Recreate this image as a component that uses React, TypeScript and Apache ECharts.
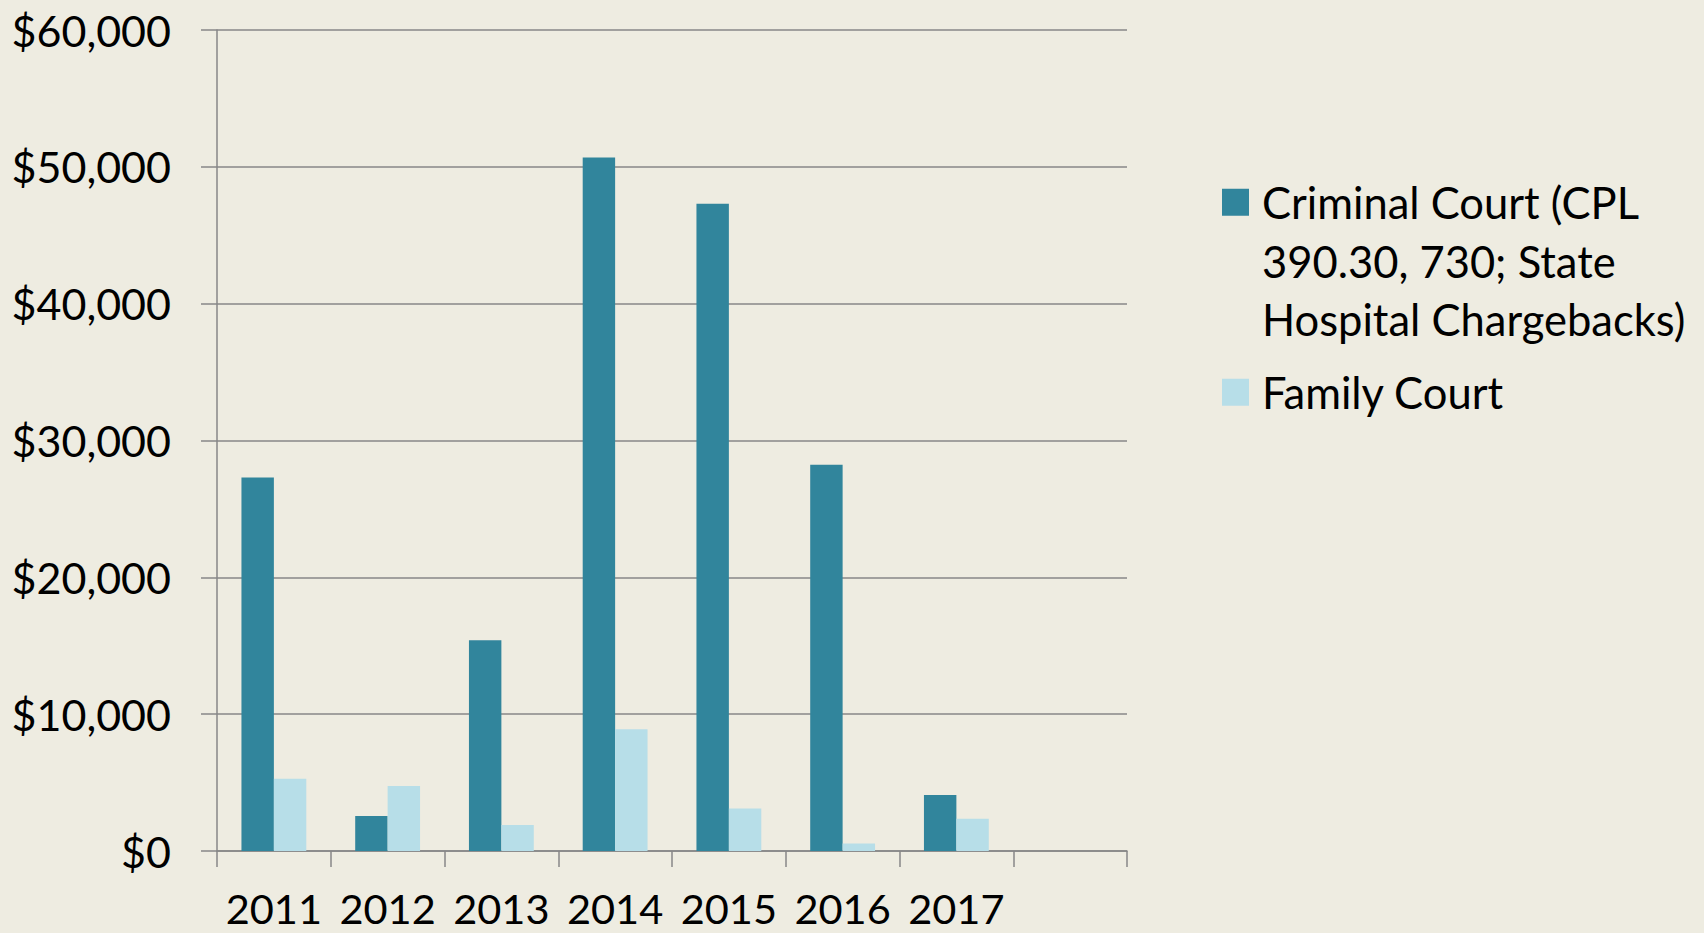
import React, { useEffect, useRef } from "react";
import * as echarts from "echarts";

const categories = ["2011", "2012", "2013", "2014", "2015", "2016", "2017", ""];
const criminalCourt = [27300, 2550, 15400, 50680, 47300, 28230, 4100, null];
const familyCourt = [5280, 4750, 1900, 8900, 3100, 550, 2350, null];
const seriesNames = [
  "Criminal Court (CPL\n390.30, 730; State\nHospital Chargebacks)",
  "Family Court",
];
const yTicks = { min: 0, max: 60000, interval: 10000 };

const FONT = "Lato";

export default function App() {
  const ref = useRef<HTMLDivElement>(null);
  useEffect(() => {
    if (!ref.current) return;
    const chart = echarts.init(ref.current, undefined, { renderer: "svg" });
    const axisGrey = "#878787";
    chart.setOption({
      animation: false,
      backgroundColor: "#EEECE1",
      textStyle: { fontFamily: FONT },
      grid: { left: 217, right: 577, top: 30, bottom: 82 },
      legend: [
        {
          data: [seriesNames[0]],
          left: 1222,
          top: 56,
          padding: 0,
          itemWidth: 27,
          itemHeight: 27,
          icon: "rect",
          formatter: (name: string) => "\n\n" + name,
          textStyle: {
            fontFamily: FONT,
            fontSize: 43.5,
            color: "#000",
            lineHeight: 58.5,
            padding: [0, 0, 0, 8],
          },
        },
        {
          data: [seriesNames[1]],
          left: 1222,
          top: 363,
          padding: 0,
          itemWidth: 27,
          itemHeight: 27,
          icon: "rect",
          textStyle: {
            fontFamily: FONT,
            fontSize: 43.5,
            color: "#000",
            lineHeight: 58.5,
            padding: [0, 0, 0, 8],
          },
        },
      ],
      xAxis: {
        type: "category",
        data: categories,
        axisLine: { show: true, lineStyle: { color: axisGrey, width: 1.5 } },
        axisTick: { show: true, length: 16, alignWithLabel: false, lineStyle: { color: axisGrey, width: 1.5 } },
        axisLabel: { fontFamily: FONT, fontSize: 41.5, lineHeight: 30, color: "#000", margin: 42, interval: 0 },
        splitLine: { show: false },
      },
      yAxis: {
        type: "value",
        min: yTicks.min,
        max: yTicks.max,
        interval: yTicks.interval,
        axisLine: { show: true, lineStyle: { color: axisGrey, width: 1.5 } },
        axisTick: { show: true, length: 16, lineStyle: { color: axisGrey, width: 1.5 } },
        axisLabel: {
          fontFamily: FONT,
          fontSize: 43,
          color: "#000",
          margin: 46,
          formatter: (v: number) => "$" + v.toLocaleString("en-US"),
        },
        splitLine: { show: true, lineStyle: { color: axisGrey, width: 1.5 } },
      },
      series: [
        {
          name: seriesNames[0],
          type: "bar",
          data: criminalCourt,
          barGap: "0%",
          barCategoryGap: "43%",
          itemStyle: { color: "#31859C" },
        },
        {
          name: seriesNames[1],
          type: "bar",
          data: familyCourt,
          itemStyle: { color: "#B7DEE8" },
        },
      ],
    });
    return () => chart.dispose();
  }, []);
  return (
    <div
      ref={ref}
      style={{ position: "fixed", left: 0, top: 0, width: 1704, height: 933 }}
    />
  );
}
